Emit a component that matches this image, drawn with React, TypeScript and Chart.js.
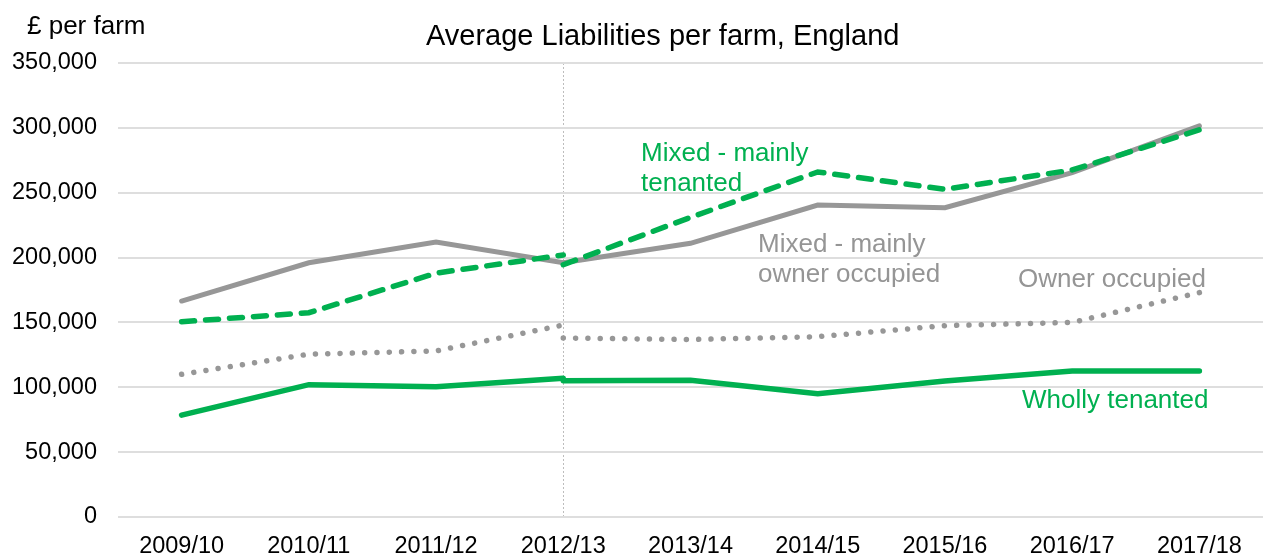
import React, { useEffect, useRef } from 'react';
import { Chart, registerables } from 'chart.js';

Chart.register(...registerables);

const CATEGORIES = ['2009/10', '2010/11', '2011/12', '2012/13', '2013/14', '2014/15', '2015/16', '2016/17', '2017/18'];
const BREAK_INDEX = 3; // series break at 2012/13
const MIXED_OWNER = [166500, 196000, 212000, 196000, 211000, 240500, 238500, 265500, 301500];
const MIXED_TENANTED_BEFORE = [150500, 157500, 188000, 202000];
const MIXED_TENANTED_AFTER = [194500, 231000, 266000, 252600, 267500, 298500];
const OWNER_BEFORE = [110000, 125500, 128000, 148000];
const OWNER_AFTER = [138000, 136800, 139000, 147500, 150000, 173000];
const WHOLLY_BEFORE = [78500, 102000, 100500, 107000];
const WHOLLY_AFTER = [105000, 105500, 95000, 104800, 112500, 112500];
const Y_MIN = 0;
const Y_MAX = 350000;
const Y_STEP = 50000;

const TITLE = 'Average Liabilities per farm, England';
const Y_UNIT = '£ per farm';

const GREEN = '#00B050';
const GREY = '#979797';
const GREY_TEXT = '#959595';
const FONT = '"Liberation Sans", Arial, sans-serif';

const before = (arr: number[]) => CATEGORIES.map((_, i) => (i <= BREAK_INDEX ? arr[i] : null));
const after = (arr: number[]) => CATEGORIES.map((_, i) => (i >= BREAK_INDEX ? arr[i - BREAK_INDEX] : null));

const textPlugin = {
  id: 'textPlugin',
  afterDraw(chart: any) {
    const ctx = chart.ctx;
    ctx.save();
    ctx.textBaseline = 'alphabetic';
    ctx.textAlign = 'left';
    ctx.fillStyle = '#000';
    ctx.font = `29px ${FONT}`;
    ctx.fillText(TITLE, 426, 45);
    ctx.font = `26px ${FONT}`;
    ctx.fillText(Y_UNIT, 27, 34);

    ctx.fillStyle = GREEN;
    ctx.fillText('Mixed - mainly', 641, 161);
    ctx.fillText('tenanted', 641, 191);
    ctx.fillText('Wholly tenanted', 1022, 408);

    ctx.fillStyle = GREY_TEXT;
    ctx.fillText('Mixed - mainly', 758, 252);
    ctx.fillText('owner occupied', 758, 282);
    ctx.fillText('Owner occupied', 1018, 287);
    ctx.restore();
  },
};

export default function App() {
  const ref = useRef<HTMLCanvasElement | null>(null);

  useEffect(() => {
    if (!ref.current) return;
    const common = { pointRadius: 0, pointHoverRadius: 0, tension: 0, borderWidth: 5.5, spanGaps: false, fill: false };
    const chart = new Chart(ref.current, {
      type: 'line',
      data: {
        labels: CATEGORIES,
        datasets: [
          { ...common, label: 'Mixed - mainly tenanted', data: before(MIXED_TENANTED_BEFORE), borderColor: GREEN, borderDash: [13, 11], borderCapStyle: 'round' },
          { ...common, label: 'Mixed - mainly tenanted (new)', data: after(MIXED_TENANTED_AFTER), borderColor: GREEN, borderDash: [13, 11], borderCapStyle: 'round' },
          { ...common, label: 'Mixed - mainly owner occupied', data: MIXED_OWNER, borderColor: GREY, borderCapStyle: 'round', borderWidth: 5 },
          { ...common, label: 'Owner occupied', data: before(OWNER_BEFORE), borderColor: GREY, borderDash: [0.01, 12.3], borderCapStyle: 'round', borderWidth: 5.5 },
          { ...common, label: 'Owner occupied (new)', data: after(OWNER_AFTER), borderColor: GREY, borderDash: [0.01, 12.3], borderCapStyle: 'round', borderWidth: 5.5 },
          { ...common, label: 'Wholly tenanted', data: before(WHOLLY_BEFORE), borderColor: GREEN, borderCapStyle: 'round' },
          { ...common, label: 'Wholly tenanted (new)', data: after(WHOLLY_AFTER), borderColor: GREEN, borderCapStyle: 'round' },
        ] as any,
      },
      options: {
        responsive: false,
        animation: false,
        devicePixelRatio: 1,
        layout: { padding: { top: 63, right: 3, left: 0, bottom: 0 } },
        plugins: { legend: { display: false }, tooltip: { enabled: false }, title: { display: false } },
        scales: {
          x: {
            type: 'category',
            offset: true,
            grid: {
              offset: false,
              drawTicks: false,
              color: (c: any) => (c.index === BREAK_INDEX ? '#BDBDBD' : 'rgba(0,0,0,0)'),
              lineWidth: 1,
            },
            border: { display: false, dash: [2, 2] },
            ticks: { color: '#000', font: { family: FONT, size: 23.5 }, padding: 15, maxRotation: 0, autoSkip: false },
            afterFit: (s: any) => { s.height = 37; },
          },
          y: {
            min: Y_MIN,
            max: Y_MAX,
            grid: { color: '#DEDEDE', lineWidth: 2, drawTicks: false },
            border: { display: false },
            ticks: {
              stepSize: Y_STEP,
              color: '#000',
              font: { family: FONT, size: 23.5 },
              padding: 21,
              callback: (v: any) => Number(v).toLocaleString('en-US'),
            },
            afterFit: (s: any) => { s.width = 118; },
          },
        },
      },
      plugins: [textPlugin],
    } as any);
    return () => chart.destroy();
  }, []);

  return (
    <div style={{ position: 'absolute', left: 0, top: 0, width: 1266, height: 554, background: '#fff' }}>
      <canvas ref={ref} width={1266} height={554} />
    </div>
  );
}
